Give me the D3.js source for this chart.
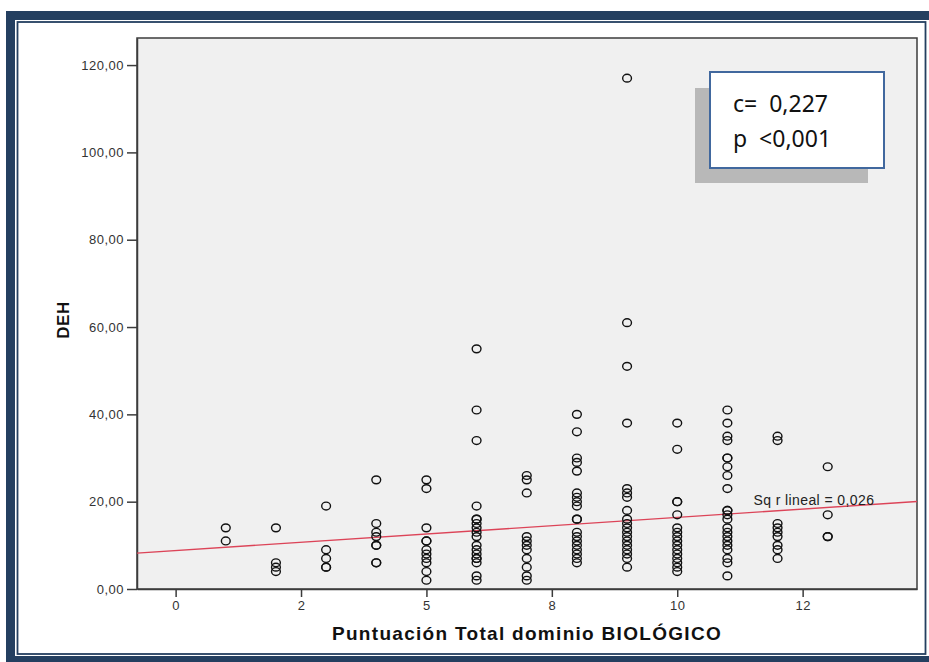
<!DOCTYPE html>
<html>
<head>
<meta charset="utf-8">
<script src="https://cdn.jsdelivr.net/npm/d3@7"></script>
<style>
  body { margin: 0; background: #fff; }
  svg { display: block; font-family: "Liberation Sans", Arial, sans-serif; }
</style>
</head>
<body>
<script>
// Puntuación total (x) and DEH values read for each score column
var scores = [1, 2, 3, 4, 5, 6, 7, 8, 9, 10, 11, 12, 13];
var dehByScore = [
  [14, 11],
  [14, 6, 5, 4],
  [19, 9, 7, 5, 5],
  [25, 15, 13, 12, 10, 10, 6, 6],
  [25, 23, 14, 11, 11, 9, 8, 7, 6, 4, 2],
  [55, 41, 34, 19, 16, 16, 15, 14, 13, 12, 10, 9, 8, 7, 7, 6, 3, 2],
  [26, 25, 22, 12, 11, 10, 9, 7, 5, 3, 2],
  [40, 36, 30, 29, 27, 22, 21, 20, 19, 16, 16, 13, 12, 11, 10, 9, 8, 7, 6],
  [117, 61, 51, 38, 23, 22, 21, 18, 16, 15, 14, 13, 12, 11, 10, 9, 8, 7, 5],
  [38, 32, 20, 20, 17, 14, 13, 12, 11, 10, 9, 8, 7, 6, 5, 4],
  [41, 38, 35, 34, 30, 30, 28, 26, 23, 18, 18, 17, 16, 14, 13, 12, 11, 10, 9, 7, 6, 3],
  [35, 34, 15, 14, 13, 12, 10, 9, 7],
  [28, 17, 12, 12]
];
var xTickValues = [0, 2.5, 5, 7.5, 10, 12.5];
var xTickLabels = ["0", "2", "5", "8", "10", "12"];
var yTickValues = [0, 20, 40, 60, 80, 100, 120];
var yTickLabels = ["0,00", "20,00", "40,00", "60,00", "80,00", "100,00", "120,00"];
var fit = { intercept: 8.8, slope: 0.76, label: "Sq r lineal = 0,026" };
var stats = ["c=  0,227", "p  <0,001"];

var points = [];
scores.forEach(function(s, i){
  dehByScore[i].forEach(function(v){
    points.push({ x: s, y: v });
  });
});

var scr = { w: 929, h: 662 };
var plot = { left: 137, right: 917, top: 38, bottom: 589 };

var svg = d3.select('body')
            .append('svg')
            .attr('width', scr.w)
            .attr('height', scr.h);

// page frame
svg.append('rect')
   .attr('x', 6).attr('y', 11)
   .attr('width', 940).attr('height', 660)
   .attr('fill', '#243f60');
svg.append('rect')
   .attr('x', 15).attr('y', 20)
   .attr('width', 930).attr('height', 636)
   .attr('fill', '#fff');
svg.append('rect')
   .attr('x', 17.5).attr('y', 22)
   .attr('width', 908).attr('height', 632)
   .attr('fill', 'none')
   .attr('stroke', '#243f60')
   .attr('stroke-width', 1.8);

var xScale = d3.scaleLinear()
               .domain([-0.77, 14.78])
               .range([plot.left, plot.right]);
var yScale = d3.scaleLinear()
               .domain([0, 126.2])
               .range([plot.bottom, plot.top]);

// plot background
svg.append('rect')
   .attr('x', plot.left).attr('y', plot.top)
   .attr('width', plot.right - plot.left)
   .attr('height', plot.bottom - plot.top)
   .attr('fill', '#f0f0f0')
   .attr('stroke', '#3c3c3c')
   .attr('stroke-width', 1.5);

var xAxis = d3.axisBottom(xScale)
              .tickValues(xTickValues)
              .tickFormat(function(d, i){ return xTickLabels[i]; })
              .tickSize(8)
              .tickSizeOuter(0)
              .tickPadding(4);
var yAxis = d3.axisLeft(yScale)
              .tickValues(yTickValues)
              .tickFormat(function(d, i){ return yTickLabels[i]; })
              .tickSize(10)
              .tickSizeOuter(0)
              .tickPadding(3);

var gx = svg.append('g')
   .attr('transform', 'translate(0,' + plot.bottom + ')')
   .call(xAxis);
var gy = svg.append('g')
   .attr('transform', 'translate(' + plot.left + ',0)')
   .call(yAxis);
[gx, gy].forEach(function(g){
  g.select('.domain').attr('stroke', '#3c3c3c').attr('stroke-width', 1.5);
  g.selectAll('.tick line').attr('stroke', '#3c3c3c').attr('stroke-width', 1.5);
  g.selectAll('.tick text')
   .attr('fill', '#333')
   .style('font-size', '13px')
   .style('letter-spacing', '0.5px')
   .style('font-family', '"Liberation Sans", Arial, sans-serif');
});

// fit line
var x0 = xScale.domain()[0], x1 = xScale.domain()[1];
svg.append('line')
   .attr('x1', xScale(x0)).attr('y1', yScale(fit.intercept + fit.slope * x0))
   .attr('x2', xScale(x1)).attr('y2', yScale(fit.intercept + fit.slope * x1))
   .attr('stroke', '#dc4458')
   .attr('stroke-width', 1.4);

svg.append('text')
   .attr('x', xScale(11.52))
   .attr('y', yScale(19.3))
   .attr('fill', '#222')
   .style('font-size', '14px')
   .style('letter-spacing', '0.4px')
   .text(fit.label);

// points
svg.append('g')
   .selectAll('ellipse')
   .data(points)
   .enter()
   .append('ellipse')
   .attr('cx', function(d){ return xScale(d.x); })
   .attr('cy', function(d){ return yScale(d.y); })
   .attr('rx', 4.4)
   .attr('ry', 3.9)
   .attr('fill', 'none')
   .attr('stroke', '#111')
   .attr('stroke-width', 1.4);

// axis titles
svg.append('text')
   .attr('x', (plot.left + plot.right) / 2)
   .attr('y', 640)
   .attr('text-anchor', 'middle')
   .attr('fill', '#111')
   .style('font-size', '19px')
   .style('font-weight', 'bold')
   .style('letter-spacing', '1.3px')
   .text('Puntuación Total dominio BIOLÓGICO');

svg.append('text')
   .attr('transform', 'translate(69,' + 320 + ') rotate(-90)')
   .attr('text-anchor', 'middle')
   .attr('fill', '#111')
   .style('font-size', '17px')
   .style('font-weight', 'bold')
   .style('letter-spacing', '0.5px')
   .text('DEH');

// stats box
svg.append('rect')
   .attr('x', 695).attr('y', 88)
   .attr('width', 173).attr('height', 95)
   .attr('fill', '#b8b8b8');
svg.append('rect')
   .attr('x', 710).attr('y', 72)
   .attr('width', 174).attr('height', 96)
   .attr('fill', '#fff')
   .attr('stroke', '#41689e')
   .attr('stroke-width', 2);
svg.selectAll('text.stat')
   .data(stats)
   .enter()
   .append('text')
   .classed('stat', true)
   .attr('x', 733)
   .attr('y', function(d, i){ return 112 + i * 35; })
   .attr('fill', '#111')
   .style('font-family', '"Noto Sans", "Open Sans", sans-serif')
   .style('font-size', '23px')
   .style('white-space', 'pre')
   .attr('xml:space', 'preserve')
   .text(function(d){ return d; });
</script>
</body>
</html>
